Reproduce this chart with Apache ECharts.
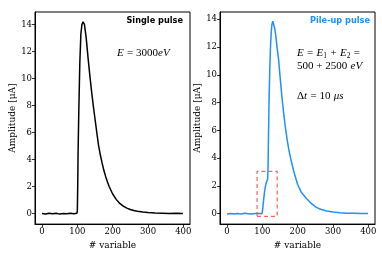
<!DOCTYPE html>
<html><head><meta charset="utf-8">
<script src="https://cdn.jsdelivr.net/npm/echarts@6/dist/echarts.min.js"></script>
<style>html,body{margin:0;padding:0;background:#fff}#c{width:382px;height:255px}</style>
</head><body><div id="c"></div>
<script>
// Single pulse (left panel)
const singleX = [0,10,20,30,40,50,60,70,80,90,99,100,101,102,104,107,110,113,116,120,125,130,135,140,145,150,155,160,165,170,175,180,185,190,200,210,220,230,240,250,260,270,285,300,320,340,360,380,399];
const singleY = [0.01,-0.03,0.02,-0.02,0.03,-0.04,0.01,-0.02,0.03,-0.01,0.02,0.3,2.0,4.4,7.5,11.2,13.3,14.0,14.2,14.0,13.0,11.6,10.3,9.1,8.0,7.0,6.0,5.05,4.35,3.75,3.2,2.75,2.35,2.0,1.45,1.05,0.75,0.55,0.4,0.3,0.22,0.17,0.11,0.07,0.04,0.03,0.01,0.02,0.0];
// Pile-up pulse (right panel)
const pileX = [0,10,20,30,40,50,60,70,80,90,99,101,103,106,109,112,115,116,117,119,121,123,125,127,129.5,132,135,138,142,146,150,155,160,165,170,175,180,185,190,200,210,225,240,253,265,282,300,320,340,360,380,399];
const pileY = [-0.02,0.02,-0.03,0.01,-0.02,0.03,0.0,-0.03,0.02,0.01,0.0,0.35,0.85,1.55,2.0,2.3,2.5,3.2,5.0,8.2,10.4,12.0,13.0,13.6,13.85,13.75,13.35,12.8,11.9,11.1,9.9,8.5,7.3,6.25,5.35,4.6,4.0,3.45,2.95,2.1,1.55,1.1,0.7,0.45,0.32,0.2,0.12,0.07,0.04,0.03,0.02,0.01];
// Highlight box on pile-up panel
const boxX = [85, 142];
const boxY = [-0.2, 3.05];
// Tick values
const xTicks = [0,100,200,300,400];
const yTicks = [0,2,4,6,8,10,12,14];
// Axis ranges
const xRange = [-19.95, 418.95];
const yRangeLeft = [-0.78, 14.92];
const yRangeRight = [-0.75, 14.52];

const pairs = (xs, ys) => xs.map((x, i) => [x, ys[i]]);
const serif = 'DejaVu Serif';

function xAxis(gi) {
  return {
    type: 'value', gridIndex: gi, min: xRange[0], max: xRange[1],
    name: '# variable', nameLocation: 'middle', nameGap: 14,
    nameTextStyle: {fontFamily: serif, fontSize: 9, color: '#000'},
    axisLine: {show: true, onZero: false, lineStyle: {color: '#000', width: 1}},
    axisTick: {show: true, inside: false, length: 3, customValues: xTicks, lineStyle: {color: '#000', width: 0.8}},
    axisLabel: {show: true, customValues: xTicks, margin: 3, fontFamily: serif, fontSize: 8.5, color: '#000'},
    splitLine: {show: false}
  };
}
function yAxis(gi, r) {
  return {
    type: 'value', gridIndex: gi, min: r[0], max: r[1],
    name: 'Amplitude [μA]', nameLocation: 'middle', nameGap: 18,
    nameTextStyle: {fontFamily: serif, fontSize: 9, color: '#000'},
    axisLine: {show: true, onZero: false, lineStyle: {color: '#000', width: 1}},
    axisTick: {show: true, inside: false, length: 3, customValues: yTicks, lineStyle: {color: '#000', width: 0.8}},
    axisLabel: {show: true, customValues: yTicks, margin: 3, fontFamily: serif, fontSize: 8.5, color: '#000'},
    splitLine: {show: false}
  };
}

const mathRich = {
  i: {fontFamily: 'Liberation Serif', fontStyle: 'italic', fontSize: 11, color: '#000'},
  r: {fontFamily: 'Liberation Serif', fontSize: 11, color: '#000'},
  s: {fontFamily: 'Liberation Serif', fontSize: 7.5, color: '#000', padding: [6, 0, 0, 0]}
};

const chart = echarts.init(document.getElementById('c'), null, {renderer: 'canvas'});
chart.setOption({
  animation: false,
  backgroundColor: '#fff',
  grid: [
    {left: 35, top: 12, width: 155, height: 222, show: true, borderColor: '#000', borderWidth: 1},
    {left: 220, top: 12, width: 155, height: 222, show: true, borderColor: '#000', borderWidth: 1}
  ],
  xAxis: [xAxis(0), xAxis(1)],
  yAxis: [yAxis(0, yRangeLeft), yAxis(1, yRangeRight)],
  series: [
    {type: 'line', xAxisIndex: 0, yAxisIndex: 0, data: pairs(singleX, singleY), showSymbol: false,
     lineStyle: {color: '#000', width: 1.5}, itemStyle: {color: '#000'}},
    {type: 'line', xAxisIndex: 1, yAxisIndex: 1, data: pairs(pileX, pileY), showSymbol: false,
     lineStyle: {color: '#1e90ff', width: 1.5}, itemStyle: {color: '#1e90ff'},
     markArea: {silent: true, itemStyle: {color: 'rgba(0,0,0,0)', borderColor: '#ff6060', borderWidth: 1.2, borderType: [4, 3]},
       data: [[{coord: [boxX[0], boxY[0]]}, {coord: [boxX[1], boxY[1]]}]]}}
  ],
  graphic: [
    {type: 'text', x: 183, y: 21, style: {text: 'Single pulse', font: 'bold 8.2px "DejaVu Sans"', fill: '#000', align: 'right', verticalAlign: 'middle'}},
    {type: 'text', x: 117, y: 53, style: {text: '{i|E} {r|= 3000}{i|eV}', rich: mathRich, align: 'left', verticalAlign: 'middle'}},
    {type: 'text', x: 370, y: 21, style: {text: 'Pile-up pulse', font: 'bold 8.2px "DejaVu Sans"', fill: '#1e90ff', align: 'right', verticalAlign: 'middle'}},
    {type: 'text', x: 297, y: 53, style: {text: '{i|E} {r|=} {i|E}{s|1} {r|+} {i|E}{s|2} {r|=}', rich: mathRich, align: 'left', verticalAlign: 'middle'}},
    {type: 'text', x: 297, y: 66, style: {text: '{r|500 + 2500} {i|eV}', rich: mathRich, align: 'left', verticalAlign: 'middle'}},
    {type: 'text', x: 297, y: 96, style: {text: '{r|Δ}{i|t} {r|= 10} {i|μs}', rich: mathRich, align: 'left', verticalAlign: 'middle'}}
  ]
});
</script></body></html>
